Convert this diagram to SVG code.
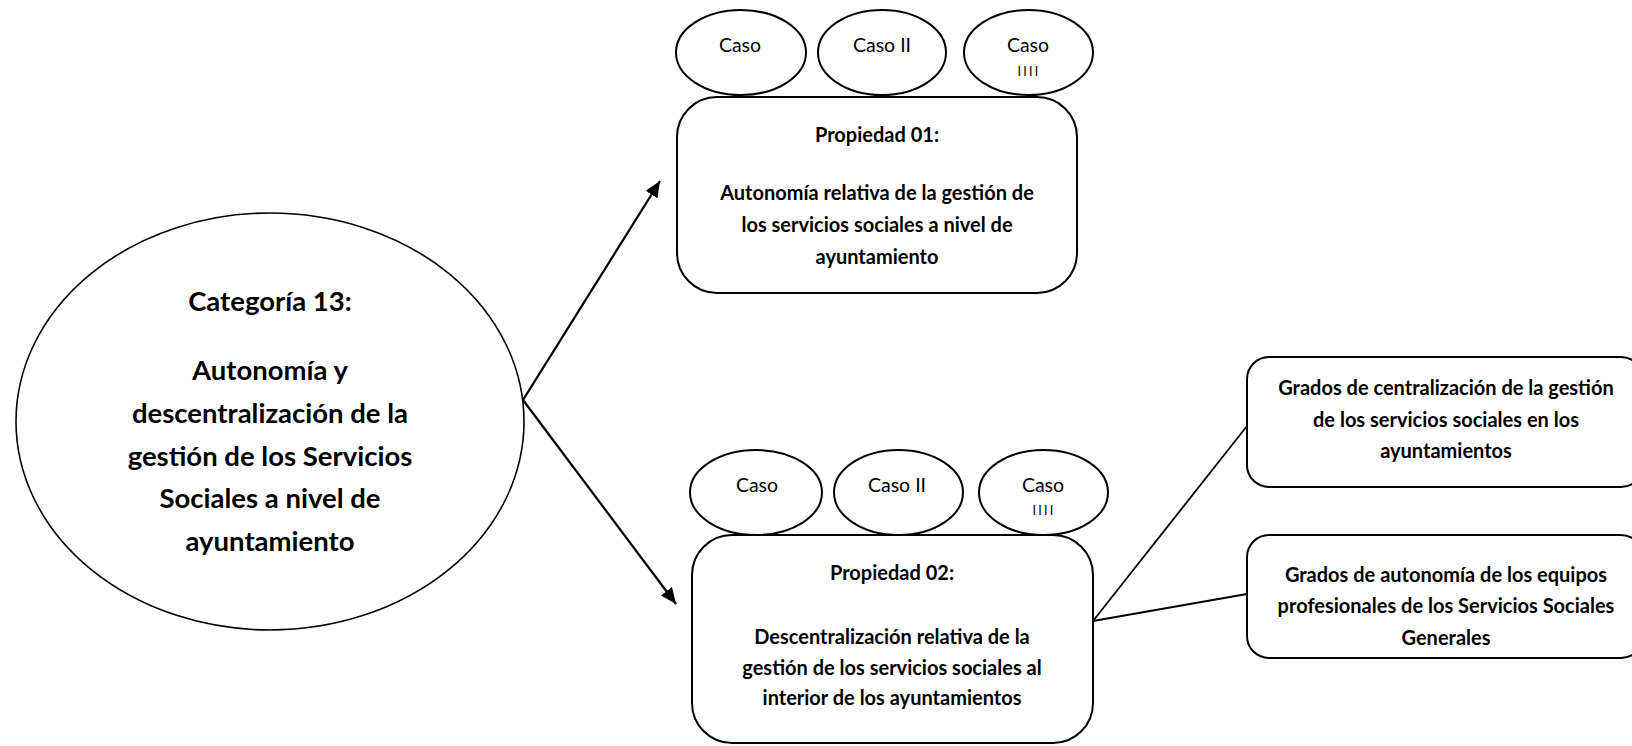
<svg xmlns="http://www.w3.org/2000/svg" width="1632" height="746" viewBox="0 0 1632 746">
  <style>
    .shape { fill: #ffffff; stroke: #000000; stroke-width: 2; }
    .thin { fill: #ffffff; stroke: #000000; stroke-width: 1.6; }
    .edge { stroke: #000000; stroke-width: 2.2; fill: none; }
    .link { stroke: #000000; stroke-width: 1.8; fill: none; }
    text { font-family: Lato, "Liberation Sans", sans-serif; fill: #000000; text-anchor: middle; }
    .b { font-weight: bold; font-size: 20px; }
    .big { font-weight: bold; font-size: 27.5px; }
    .caso { font-size: 19.5px; }
    .roman { font-size: 12.5px; letter-spacing: 2.2px; }
  </style>
  <defs>
    <marker id="arrow" markerUnits="userSpaceOnUse" markerWidth="17" markerHeight="14" refX="16" refY="7" orient="auto">
      <path d="M0,0 L16,7 L0,14 z" fill="#000000"/>
    </marker>
  </defs>
  <rect width="1632" height="746" fill="#ffffff"/>

  <!-- connectors -->
  <g id="connectors">
    <line class="edge" x1="523" y1="400" x2="660" y2="181" marker-end="url(#arrow)"/>
    <line class="edge" x1="523" y1="400" x2="676" y2="604" marker-end="url(#arrow)"/>
    <line class="link" x1="1093" y1="621" x2="1247" y2="426"/>
    <line class="link" x1="1093" y1="621" x2="1247" y2="594"/>
  </g>

  <!-- central category -->
  <g id="categoria">
    <ellipse class="thin" cx="270" cy="421.5" rx="254" ry="208.5"/>
    <text class="big" x="270" y="311">Categoría 13:</text>
    <text class="big" x="270" y="380">Autonomía y</text>
    <text class="big" x="270" y="423">descentralización de la</text>
    <text class="big" x="270" y="466">gestión de los Servicios</text>
    <text class="big" x="270" y="508">Sociales a nivel de</text>
    <text class="big" x="270" y="551">ayuntamiento</text>
  </g>

  <!-- property 01 with its cases -->
  <g id="propiedad01">
    <rect class="shape" x="677" y="97" width="400" height="196" rx="40" ry="40"/>
    <text class="b" x="877" y="142">Propiedad 01:</text>
    <text class="b" x="877" y="200">Autonomía relativa de la gestión de</text>
    <text class="b" x="877" y="232">los servicios sociales a nivel de</text>
    <text class="b" x="877" y="264">ayuntamiento</text>
  </g>
  <g id="p01-caso1">
    <ellipse class="shape" cx="741" cy="52.5" rx="65" ry="42.5"/>
    <text class="caso" x="740" y="52">Caso</text>
  </g>
  <g id="p01-caso2">
    <ellipse class="shape" cx="882" cy="52.5" rx="64" ry="42.5"/>
    <text class="caso" x="882" y="52">Caso II</text>
  </g>
  <g id="p01-caso4">
    <ellipse class="shape" cx="1028.5" cy="52.5" rx="64.5" ry="42.5"/>
    <text class="caso" x="1028" y="52">Caso</text>
    <text class="roman" x="1029" y="76">IIII</text>
  </g>

  <!-- property 02 with its cases -->
  <g id="propiedad02">
    <rect class="shape" x="692" y="535" width="401" height="208" rx="40" ry="40"/>
    <text class="b" x="892" y="580">Propiedad 02:</text>
    <text class="b" x="892" y="644">Descentralización relativa de la</text>
    <text class="b" x="892" y="675">gestión de los servicios sociales al</text>
    <text class="b" x="892" y="705">interior de los ayuntamientos</text>
  </g>
  <g id="p02-caso1">
    <ellipse class="shape" cx="756" cy="492.5" rx="66" ry="42.5"/>
    <text class="caso" x="757" y="492">Caso</text>
  </g>
  <g id="p02-caso2">
    <ellipse class="shape" cx="898.5" cy="492.5" rx="64.5" ry="42.5"/>
    <text class="caso" x="897" y="492">Caso II</text>
  </g>
  <g id="p02-caso4">
    <ellipse class="shape" cx="1043.5" cy="492.5" rx="64.5" ry="42.5"/>
    <text class="caso" x="1043" y="492">Caso</text>
    <text class="roman" x="1044" y="515">IIII</text>
  </g>

  <!-- sub-properties of property 02 -->
  <g id="grados-centralizacion">
    <rect class="shape" x="1247" y="357" width="396" height="130" rx="22" ry="22"/>
    <text class="b" x="1446" y="395">Grados de centralización de la gestión</text>
    <text class="b" x="1446" y="427">de los servicios sociales en los</text>
    <text class="b" x="1446" y="458">ayuntamientos</text>
  </g>
  <g id="grados-autonomia">
    <rect class="shape" x="1247" y="535" width="396" height="123" rx="22" ry="22"/>
    <text class="b" x="1446" y="582">Grados de autonomía de los equipos</text>
    <text class="b" x="1446" y="613">profesionales de los Servicios Sociales</text>
    <text class="b" x="1446" y="645">Generales</text>
  </g>
</svg>
